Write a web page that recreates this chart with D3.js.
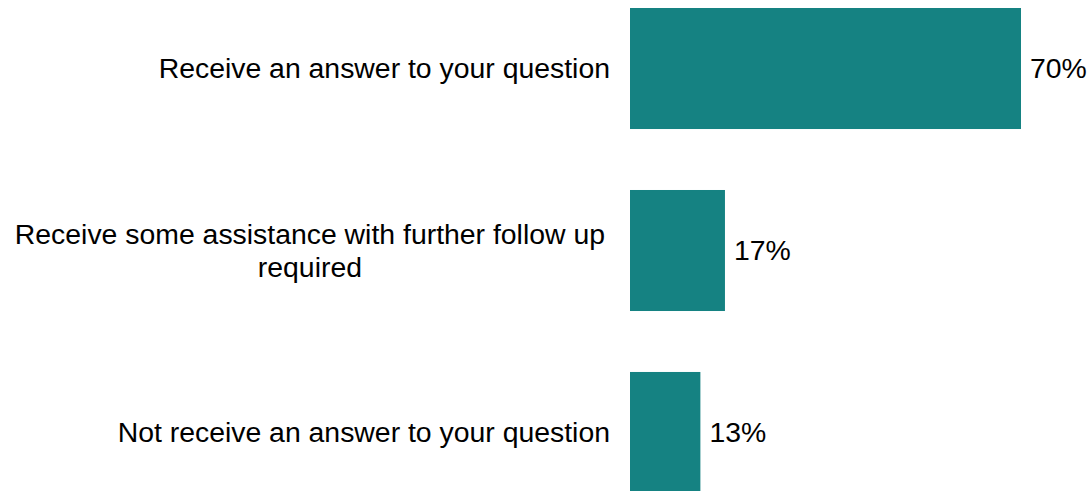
<!DOCTYPE html>
<html>
<head>
<meta charset="utf-8">
<script src="https://cdn.jsdelivr.net/npm/d3@7"></script>
<style>
  body { margin: 0; background: #fff; }
  svg { display: block; font-family: "Liberation Sans", Arial, sans-serif; }
</style>
</head>
<body>
<div id="chart"></div>
<script>
const categories = [
  "Receive an answer to your question",
  "Receive some assistance with further follow up required",
  "Not receive an answer to your question"
];
const values = [70, 17, 12.6];

const width = 1090;
const height = 491;
const barLeft = 630;
const labelRight = 610;
const fontSize = 28.4;
const lineHeight = 33;
const wrapWidth = 600;

const svg = d3.select("#chart").append("svg")
  .attr("width", width)
  .attr("height", height);

// x scale: 70% spans roughly 390px
const x = d3.scaleLinear()
  .domain([0, 70])
  .range([barLeft, barLeft + 391]);

const y = d3.scaleBand()
  .domain(categories)
  .range([8, 493])
  .paddingInner(0.335)
  .paddingOuter(0);

const data = categories.map((c, i) => ({ cat: c, value: values[i] }));

// Bars
svg.append("g")
  .selectAll("rect")
  .data(data)
  .join("rect")
  .attr("x", x(0))
  .attr("y", d => y(d.cat))
  .attr("width", d => x(d.value) - x(0))
  .attr("height", y.bandwidth())
  .attr("fill", "#158282");

// Value labels
svg.append("g")
  .selectAll("text")
  .data(data)
  .join("text")
  .attr("x", d => x(d.value) + 9)
  .attr("y", d => y(d.cat) + y.bandwidth() / 2)
  .attr("dy", "0.35em")
  .attr("font-size", fontSize)
  .attr("fill", "#000")
  .text(d => Math.round(d.value) + "%");

// Category labels, wrapped and centred within their block
const labels = svg.append("g");
data.forEach(d => {
  const words = d.cat.split(" ");
  const lines = [];
  let line = [];
  const probe = labels.append("text").attr("font-size", fontSize);
  words.forEach(w => {
    const test = line.concat(w).join(" ");
    probe.text(test);
    if (probe.node().getComputedTextLength() > wrapWidth && line.length) {
      lines.push(line.join(" "));
      line = [w];
    } else {
      line.push(w);
    }
  });
  lines.push(line.join(" "));
  const widths = lines.map(l => { probe.text(l); return probe.node().getComputedTextLength(); });
  probe.remove();
  const blockW = d3.max(widths);
  const cx = labelRight - 5 - blockW / 2;
  const cy = y(d.cat) + y.bandwidth() / 2;
  const t = labels.append("text")
    .attr("font-size", fontSize)
    .attr("fill", "#000")
    .attr("text-anchor", lines.length > 1 ? "middle" : "end");
  lines.forEach((l, i) => {
    t.append("tspan")
      .attr("x", lines.length > 1 ? cx : labelRight)
      .attr("y", cy + (i - (lines.length - 1) / 2) * lineHeight)
      .attr("dy", "0.35em")
      .text(l);
  });
});
</script>
</body>
</html>
